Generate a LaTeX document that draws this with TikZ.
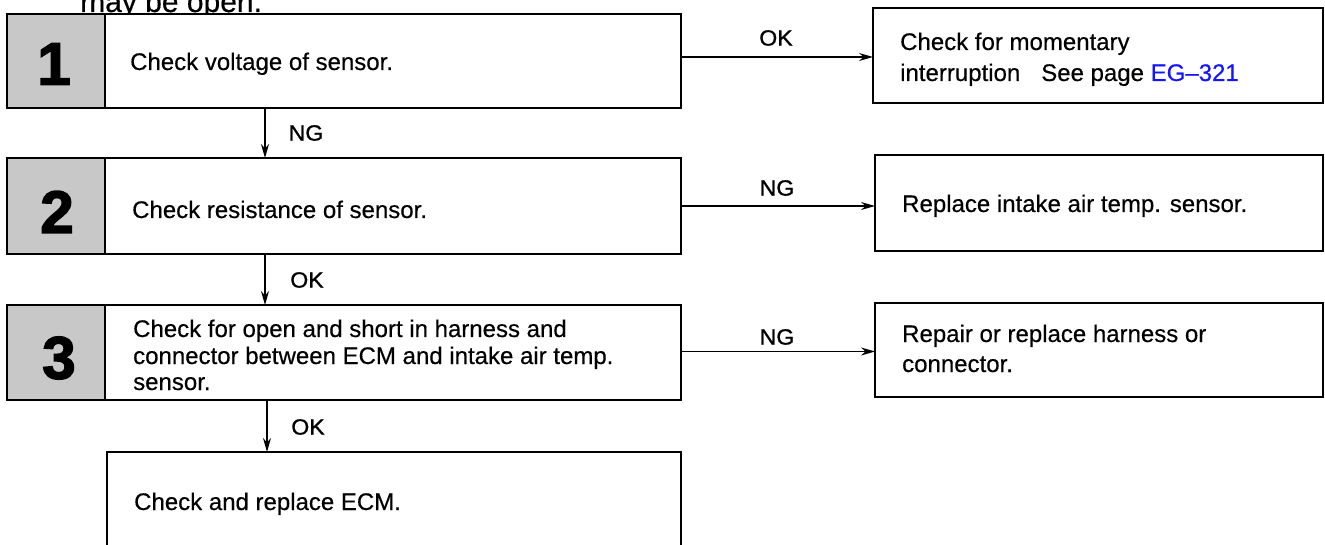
\documentclass[tikz,border=0pt]{standalone}
\usepackage{fontspec}
\setmainfont[FakeBold=0.4]{Liberation Sans}
\newfontfamily\lblfont[FakeStretch=1.05, FakeBold=1.2]{Liberation Sans}
\newfontfamily\digfont[FakeBold=2.5]{Liberation Sans}
\usetikzlibrary{arrows.meta}
\definecolor{cellgray}{RGB}{200,200,200}
\definecolor{egblue}{RGB}{20,20,255}
\tikzset{
  box/.style={draw=black, line width=1.8pt, fill=white, inner sep=0pt, outer sep=0pt, anchor=north west},
  numcell/.style={draw=black, line width=1.8pt, fill=cellgray, inner sep=0pt, outer sep=0pt, anchor=north west,
    minimum width=98pt},
  digit/.style={inner sep=0pt, font=\digfont\bfseries\fontsize{60}{60}\selectfont},
  txt/.style={anchor=base west, inner sep=0pt, font=\fontsize{24}{28}\selectfont},
  lbl/.style={inner sep=0pt, font=\lblfont\fontsize{22}{24}\selectfont},
  arr/.style={line width=1.3pt, -{Stealth[length=14pt,width=8pt]}}
}
\begin{document}
\begin{tikzpicture}[x=1pt,y=-1pt]
\clip (0,0) rectangle (1325,545);
\useasboundingbox (0,0) rectangle (1325,545);
\fill[white] (0,0) rectangle (1325,545);
% cut-off text at top
\node[anchor=base west, inner sep=0pt, font=\fontsize{30}{34}\selectfont] (top) at (80,12) {may be open.};
% left column boxes
\node[box, minimum width=674pt, minimum height=94pt] (b1) at (7,14) {};
\node[numcell, minimum height=94pt] (n1) at (7,14) {};
\node[digit] (d1) at (54,64) {1};
\node[txt] (t1) at (130,70) {Check voltage of sensor.};

\node[box, minimum width=674pt, minimum height=96pt] (b2) at (7,158) {};
\node[numcell, minimum height=96pt] (n2) at (7,158) {};
\node[digit] (d2) at (57,212) {2};
\node[txt] (t2) at (132,218) {Check resistance of sensor.};

\node[box, minimum width=674pt, minimum height=95pt] (b3) at (7,305) {};
\node[numcell, minimum height=95pt] (n3) at (7,305) {};
\node[digit] (d3) at (59,358) {3};
\node[txt] (t3a) at (133,337) {Check for open and short in harness and};
\node[txt] (t3b) at (133,364) {connector between ECM and intake air temp.};
\node[txt] (t3c) at (133,390) {sensor.};

\node[box, minimum width=574pt, minimum height=120pt] (b4) at (107,452) {};
\node[txt] (t4) at (134,510) {Check and replace ECM.};

% right column boxes
\node[box, minimum width=450pt, minimum height=95pt] (r1) at (873,8) {};
\node[txt] (u1a) at (900,50) {Check for momentary};
\node[txt] (u1b) at (900,81) {interruption\hspace*{21pt}See page {\color{egblue}EG–321}};

\node[box, minimum width=448pt, minimum height=96pt] (r2) at (875,155) {};
\node[txt] (u2) at (902,212) {Replace intake air temp. sensor.};

\node[box, minimum width=448pt, minimum height=94pt] (r3) at (875,303) {};
\node[txt] (u3a) at (902,342) {Repair or replace harness or};
\node[txt] (u3b) at (902,372) {connector.};

% vertical connectors
\draw[arr] ([xshift=258pt]b1.south west) coordinate (v1) -- (v1 |- b2.north);
\node[lbl] (l1) at (306,133) {NG};
\draw[arr] ([xshift=258pt]b2.south west) coordinate (v2) -- (v2 |- b3.north);
\node[lbl] (l2) at (307,280) {OK};
\draw[arr] ([xshift=260pt]b3.south west) coordinate (v3) -- (v3 |- b4.north);
\node[lbl] (l3) at (308,427) {OK};

% horizontal connectors
\draw[arr] ([yshift=4pt]b1.east) coordinate (h1) -- (h1 -| r1.west);
\node[lbl] (l4) at (776,38) {OK};
\draw[arr] (b2.east) -- (b2.east -| r2.west);
\node[lbl] (l5) at (777,188) {NG};
\draw[arr] ([yshift=1pt]b3.east) coordinate (h3) -- (h3 -| r3.west);
\node[lbl] (l6) at (777,337) {NG};
\end{tikzpicture}
\end{document}
